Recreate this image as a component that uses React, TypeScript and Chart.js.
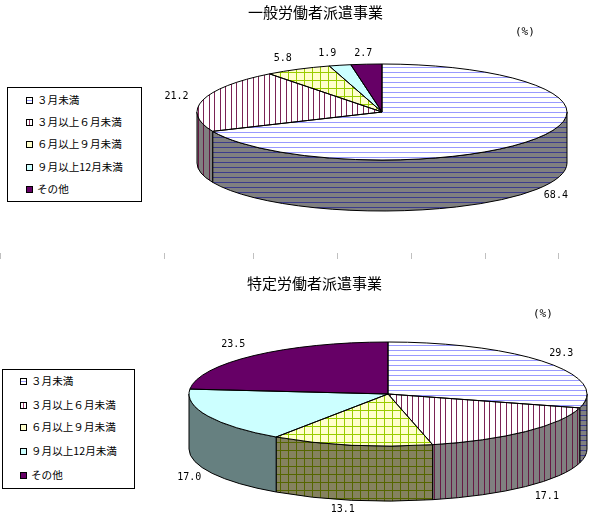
import { useEffect, useRef } from "react";
import { Chart, registerables } from "chart.js";

Chart.register(...registerables);

const categories = ["３月未満", "３月以上６月未満", "６月以上９月未満", "９月以上12月未満", "その他"];
const generalTitle = "一般労働者派遣事業";
const specificTitle = "特定労働者派遣事業";
const unitLabel = "(%)";
const generalValues = [68.4, 21.2, 5.8, 1.9, 2.7];
const specificValues = [29.3, 17.1, 13.1, 17.0, 23.5];

const LABEL_FONT = '10px "DejaVu Sans Mono", monospace';
const CJK_FONT = '"Noto Sans CJK JP", sans-serif';

type Kind = "h" | "v" | "grid" | "solid";

function makeFill(ctx: CanvasRenderingContext2D, kind: Kind, bg: string, line: string): any {
  if (kind === "solid") return bg;
  const size = kind === "h" ? [1, 5] : kind === "v" ? [11, 1] : [8, 8];
  const tile = document.createElement("canvas");
  tile.width = size[0];
  tile.height = size[1];
  const t = tile.getContext("2d")!;
  t.fillStyle = bg;
  t.fillRect(0, 0, size[0], size[1]);
  t.fillStyle = line;
  if (kind === "h") t.fillRect(0, 2, 1, 1);
  if (kind === "v") [0, 5].forEach((x) => t.fillRect(x, 0, 1, 1));
  if (kind === "grid") {
    t.fillRect(0, 0, 8, 1);
    t.fillRect(0, 0, 1, 8);
  }
  return ctx.createPattern(tile, "repeat");
}

const topStyles: [Kind, string, string][] = [
  ["h", "#ffffff", "#9999ff"],
  ["v", "#ffffff", "#7a2355"],
  ["grid", "#ffffcc", "#99cc00"],
  ["solid", "#ccffff", ""],
  ["solid", "#660066", ""],
];
const wallStyles: [Kind, string, string][] = [
  ["h", "#808080", "#3c3c8c"],
  ["v", "#808080", "#661a44"],
  ["grid", "#85825f", "#556600"],
  ["solid", "#668080", ""],
  ["solid", "#330033", ""],
];

type View = {
  cx: number;
  cy: number;
  rx: number;
  ry: number;
  depth: number;
  nudges: [number, number][];
};

const generalView: View = {
  cx: 382, cy: 112, rx: 185, ry: 48, depth: 51,
  nudges: [[-2, 0], [-2, -1], [-4, 0], [-7, 0], [-1, 1]],
};
const specificView: View = {
  cx: 388, cy: 136, rx: 199, ry: 52, depth: 55,
  nudges: [[-5, -2], [4, 1], [-4, -2], [4, 1], [-4, -2]],
};

const CANVAS_W = 590;
const CANVAS_H = 258;

function buildChart(canvas: HTMLCanvasElement, values: number[], view: View) {
  const ctx = canvas.getContext("2d")!;
  const tops = topStyles.map(([k, b, l]) => makeFill(ctx, k, b, l));
  const walls = wallStyles.map(([k, b, l]) => makeFill(ctx, k, b, l));
  const tilt = view.ry / view.rx;

  const pie3d = {
    id: "pie3d",
    beforeDatasetsDraw(chart: any) {
      const c = chart.ctx;
      const arcs = chart.getDatasetMeta(0).data;
      arcs.forEach((arc: any, i: number) => {
        const a = Math.max(arc.startAngle, 0);
        const b = Math.min(arc.endAngle, Math.PI);
        if (b <= a) return;
        const rx = arc.outerRadius;
        const ry = rx * tilt;
        c.save();
        c.beginPath();
        c.ellipse(arc.x, arc.y, rx, ry, 0, a, b);
        c.ellipse(arc.x, arc.y + view.depth, rx, ry, 0, b, a, true);
        c.closePath();
        c.fillStyle = walls[i];
        c.fill();
        c.strokeStyle = "#000000";
        c.lineWidth = 1;
        c.stroke();
        c.restore();
      });
    },
    beforeDatasetDraw(chart: any) {
      const c = chart.ctx;
      const first = chart.getDatasetMeta(0).data[0];
      c.save();
      c.translate(first.x, first.y);
      c.scale(1, tilt);
      c.translate(-first.x, -first.y);
      const inverse = c.getTransform().inverse();
      tops.forEach((p: any) => {
        if (typeof p !== "string" && p) p.setTransform(inverse);
      });
    },
    afterDatasetDraw(chart: any) {
      chart.ctx.restore();
    },
    afterDatasetsDraw(chart: any) {
      const c = chart.ctx;
      const arcs = chart.getDatasetMeta(0).data;
      c.save();
      c.strokeStyle = "#000000";
      c.lineWidth = 1;
      arcs.forEach((arc: any) => {
        const rx = arc.outerRadius;
        c.beginPath();
        c.moveTo(arc.x, arc.y);
        c.ellipse(arc.x, arc.y, rx, rx * tilt, 0, arc.startAngle, arc.endAngle);
        c.closePath();
        c.stroke();
      });
      c.font = LABEL_FONT;
      c.fillStyle = "#000000";
      c.textAlign = "center";
      c.textBaseline = "middle";
      arcs.forEach((arc: any, i: number) => {
        const mid = (arc.startAngle + arc.endAngle) / 2;
        const rx = arc.outerRadius;
        const dx = Math.cos(mid);
        const dy = Math.sin(mid);
        const [nx, ny] = view.nudges[i];
        const x = arc.x + (rx + 25) * dx + nx;
        const y = arc.y + (rx * tilt + 12) * dy + (dy > 0 ? view.depth : 0) + ny;
        c.fillText(values[i].toFixed(1), x, y);
      });
      c.restore();
    },
  };

  const padX = 2 * view.cx - CANVAS_W;
  const padY = 2 * view.cy - CANVAS_H;

  return new Chart(canvas, {
    type: "pie",
    data: {
      labels: categories,
      datasets: [
        {
          data: values,
          backgroundColor: tops,
          borderWidth: 0,
          clip: false,
        } as any,
      ],
    },
    options: {
      responsive: false,
      animation: false,
      events: [],
      radius: view.rx,
      layout: {
        padding: {
          left: Math.max(padX, 0),
          right: Math.max(-padX, 0),
          top: Math.max(padY, 0),
          bottom: Math.max(-padY, 0),
        },
      },
      plugins: { legend: { display: false }, title: { display: false }, tooltip: { enabled: false } },
    } as any,
    plugins: [pie3d],
  });
}

const swatches = [
  "linear-gradient(#9999ff,#9999ff) center/100% 1px no-repeat, #ffffff",
  "linear-gradient(#993366,#993366) center/1px 100% no-repeat, #ffffff",
  "#ffffcc",
  "#ccffff",
  "#660066",
];

function Legend(props: { left: number; top: number; width: number; height: number; swatchX: number; rows: number[] }) {
  return (
    <>
      <div
        style={{
          position: "absolute",
          left: props.left,
          top: props.top,
          width: props.width,
          height: props.height,
          border: "1px solid #000",
          boxSizing: "border-box",
          background: "#fff",
        }}
      />
      {categories.map((name, i) => (
        <div key={name}>
          <div
            style={{
              position: "absolute",
              left: props.swatchX,
              top: props.rows[i] - 3,
              width: 7,
              height: 7,
              border: "1px solid #000",
              boxSizing: "border-box",
              background: swatches[i],
            }}
          />
          <div
            style={{
              position: "absolute",
              left: props.swatchX + 11,
              top: props.rows[i] - 8,
              lineHeight: "16px",
              fontSize: 10.6,
              fontFamily: CJK_FONT,
              whiteSpace: "nowrap",
              color: "#000",
            }}
          >
            {name}
          </div>
        </div>
      ))}
    </>
  );
}

function Caption(props: { text: string; left: number; top: number; size: number; mono?: boolean }) {
  return (
    <div
      style={{
        position: "absolute",
        left: props.left,
        top: props.top,
        fontSize: props.size,
        lineHeight: "20px",
        fontFamily: props.mono ? '"DejaVu Sans Mono", monospace' : CJK_FONT,
        whiteSpace: "nowrap",
        color: "#000",
      }}
    >
      {props.text}
    </div>
  );
}

const dividerTicks = [0, 164, 253, 337, 411, 485, 558];

export default function App() {
  const topRef = useRef<HTMLCanvasElement>(null);
  const bottomRef = useRef<HTMLCanvasElement>(null);

  useEffect(() => {
    const a = buildChart(topRef.current!, generalValues, generalView);
    const b = buildChart(bottomRef.current!, specificValues, specificView);
    return () => {
      a.destroy();
      b.destroy();
    };
  }, []);

  return (
    <div style={{ position: "fixed", left: 0, top: 0, width: 590, height: 516, background: "#fff", overflow: "hidden" }}>
      <canvas ref={topRef} width={CANVAS_W} height={CANVAS_H} style={{ position: "absolute", left: 0, top: 0 }} />
      <canvas ref={bottomRef} width={CANVAS_W} height={CANVAS_H} style={{ position: "absolute", left: 0, top: 258 }} />
      {dividerTicks.map((x) => (
        <div key={x} style={{ position: "absolute", left: x, top: 253, width: 1, height: 6, background: "#c0c0c0" }} />
      ))}
      <Caption text={generalTitle} left={248} top={2} size={15} />
      <Caption text={unitLabel} left={515} top={22} size={11} mono />
      <Legend left={7} top={87} width={135} height={115} swatchX={26} rows={[100, 122, 144, 167, 189]} />
      <Caption text={specificTitle} left={247} top={273} size={15} />
      <Caption text={unitLabel} left={533} top={304} size={11} mono />
      <Legend left={2} top={369} width={133} height={120} swatchX={20} rows={[381, 405, 427, 451, 475]} />
    </div>
  );
}
